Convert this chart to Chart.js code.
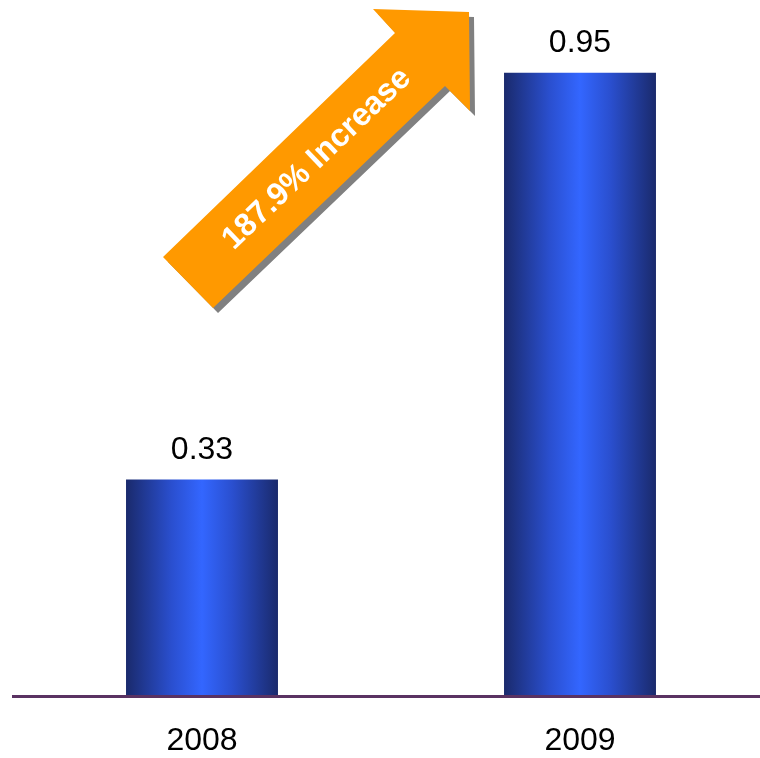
<!DOCTYPE html>
<html>
<head>
<meta charset="utf-8">
<script src="https://cdn.jsdelivr.net/npm/chart.js@4/dist/chart.umd.min.js"></script>
<style>
  html, body { margin: 0; padding: 0; background: #fff; }
  #wrap { width: 760px; height: 758px; overflow: hidden; }
</style>
</head>
<body>
<div id="wrap"><canvas id="chart" width="770" height="758"></canvas></div>
<script>
// tahun dan nilai
const years = ['2008', '2009'];
const values = [0.33, 0.95];
const increaseText = '187.9% Increase';

const FONT = '"Liberation Sans", Arial, sans-serif';

// gradien horizontal untuk tiap batang
function barGradient(ctx) {
  const chart = ctx.chart;
  if (!chart.chartArea) return '#3366ff';
  const xs = chart.scales.x;
  const cx = xs.getPixelForValue(ctx.dataIndex);
  const half = xs.width / years.length * 0.402 / 2;
  const g = chart.ctx.createLinearGradient(cx - half, 0, cx + half, 0);
  g.addColorStop(0, '#1a2a6c');
  g.addColorStop(0.3, '#2a4fcf');
  g.addColorStop(0.5, '#3366ff');
  g.addColorStop(0.7, '#2a4fcf');
  g.addColorStop(1, '#1a2a6c');
  return g;
}

// garis dasar, label nilai dan panah kenaikan
const extras = {
  id: 'extras',
  afterDatasetsDraw(chart) {
    const c = chart.ctx;
    const y0 = chart.scales.y.getPixelForValue(0);

    c.save();
    c.strokeStyle = '#5a3262';
    c.lineWidth = 3;
    c.beginPath();
    c.moveTo(12, y0 + 0.5);
    c.lineTo(chart.width, y0 + 0.5);
    c.stroke();

    c.fillStyle = '#000';
    c.font = '32px ' + FONT;
    c.textAlign = 'center';
    c.textBaseline = 'alphabetic';
    chart.getDatasetMeta(0).data.forEach((bar, i) => {
      c.fillText(values[i].toFixed(2), bar.x, bar.y - 20.5);
    });

    const pts = [[163, 257], [395, 33], [373, 9], [469, 12], [470, 111], [445, 86], [213, 308]];
    const poly = (dx, dy) => {
      c.beginPath();
      pts.forEach(([x, y], k) => k ? c.lineTo(x + dx, y + dy) : c.moveTo(x + dx, y + dy));
      c.closePath();
      c.fill();
    };
    c.fillStyle = '#808080';
    poly(5, 5);
    c.fillStyle = '#ff9900';
    poly(0, 0);

    c.translate(317, 159);
    c.rotate(Math.atan2(-222, 232));
    c.fillStyle = '#fff';
    c.font = 'bold 32px ' + FONT;
    c.textBaseline = 'middle';
    c.fillText(increaseText, 0, 0);
    c.restore();
  }
};

const ctx = document.getElementById('chart').getContext('2d');
new Chart(ctx, {
  type: 'bar',
  data: {
    labels: years,
    datasets: [{
      data: values,
      backgroundColor: barGradient,
      borderWidth: 0,
      barPercentage: 1,
      categoryPercentage: 0.402
    }]
  },
  options: {
    responsive: false,
    animation: false,
    devicePixelRatio: 1,
    layout: { padding: { left: 13, right: 1, top: 0, bottom: 0 } },
    plugins: { legend: { display: false }, tooltip: { enabled: false } },
    scales: {
      x: {
        grid: { display: false, drawTicks: false },
        border: { display: false },
        ticks: {
          color: '#000',
          padding: 29,
          font: { family: FONT, size: 32, lineHeight: 1 }
        },
        afterFit(scale) { scale.height = 62; }
      },
      y: {
        display: false,
        min: 0,
        max: 1.061
      }
    }
  },
  plugins: [extras]
});
</script>
</body>
</html>
